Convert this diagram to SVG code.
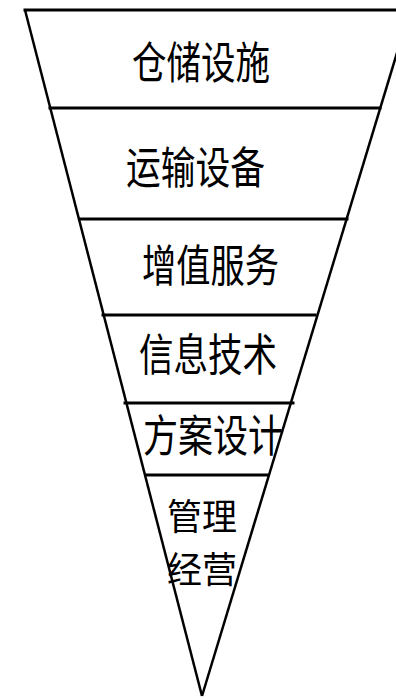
<svg xmlns="http://www.w3.org/2000/svg" width="396" height="699" viewBox="0 0 396 699">
<style>
.ln{stroke:#000;stroke-width:3;fill:none;stroke-linecap:square}
.ed{stroke:#000;stroke-width:2.5;fill:none}
.t{font-family:"Noto Sans CJK SC","Noto Sans",sans-serif;font-size:44px;fill:#000;text-anchor:start}
.s{font-size:36px}
</style>
<rect width="396" height="699" fill="#fff"/>
<g id="outline">
<line class="ln" x1="25" y1="10" x2="396" y2="10"/>
<line class="ed" x1="25" y1="10" x2="202" y2="696"/>
<line class="ed" x1="410" y1="10" x2="202" y2="696"/>
<line class="ln" x1="50" y1="108" x2="380" y2="108"/>
<line class="ln" x1="80" y1="219" x2="347" y2="219"/>
<line class="ln" x1="103" y1="315" x2="315" y2="315"/>
<line class="ln" x1="125" y1="403" x2="293" y2="403"/>
<line class="ln" x1="147" y1="475" x2="267" y2="475"/>
</g>
<g id="n1"><text class="t" x="132" y="78.5" textLength="138" lengthAdjust="spacingAndGlyphs">仓储设施</text></g>
<g id="n2"><text class="t" x="126" y="183.5" textLength="139" lengthAdjust="spacingAndGlyphs">运输设备</text></g>
<g id="n3"><text class="t" x="142" y="281.5" textLength="137" lengthAdjust="spacingAndGlyphs">增值服务</text></g>
<g id="n4"><text class="t" x="139" y="370.5" textLength="138" lengthAdjust="spacingAndGlyphs">信息技术</text></g>
<g id="n5"><text class="t" x="143" y="451.5" textLength="140" lengthAdjust="spacingAndGlyphs">方案设计</text></g>
<g id="n6">
<text class="t s" x="167" y="530" textLength="70" lengthAdjust="spacingAndGlyphs">管理</text>
<text class="t s" x="167" y="582.5" textLength="70" lengthAdjust="spacingAndGlyphs">经营</text>
</g>
<g id="connectors"></g>
</svg>
